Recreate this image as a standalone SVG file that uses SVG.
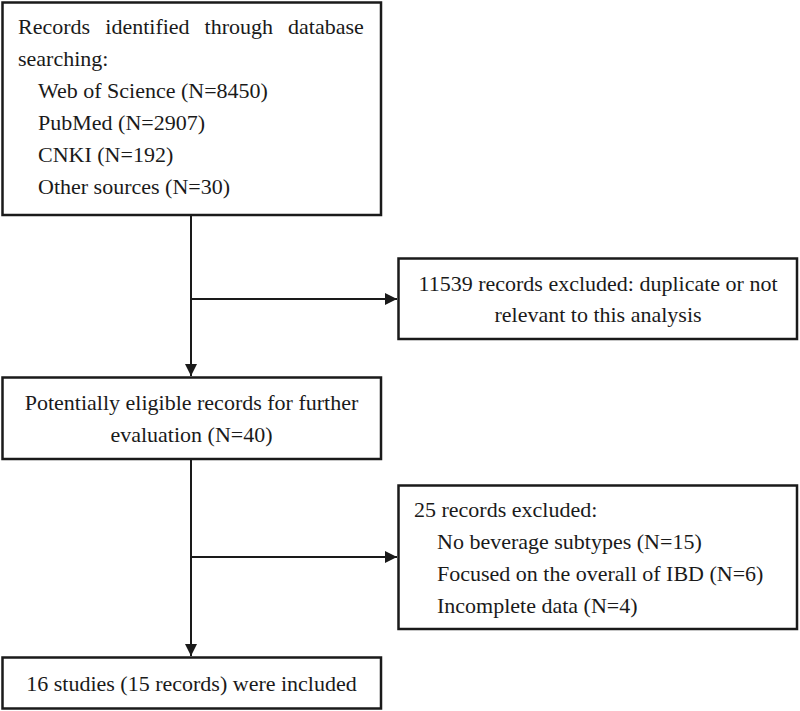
<svg xmlns="http://www.w3.org/2000/svg" width="800" height="711" viewBox="0 0 800 711">
  <style>
    .box { fill: #ffffff; stroke: #1a1a1a; stroke-width: 2.5; }
    .t { font-family: "Liberation Serif", "Times New Roman", serif; font-size: 22px; fill: #1a1a1a; }
    .c { text-anchor: middle; }
    .ln { stroke: #1a1a1a; stroke-width: 2; fill: none; }
  </style>
  <defs>
    <marker id="ah" viewBox="0 0 12 12" refX="12" refY="6" markerWidth="12" markerHeight="12" markerUnits="userSpaceOnUse" orient="auto">
      <path d="M0,0 L12,6 L0,12 Z" fill="#1a1a1a"/>
    </marker>
  </defs>
  <rect width="800" height="711" fill="#ffffff"/>

  <g id="connectors">
    <line class="ln" x1="191" y1="215" x2="191" y2="376" marker-end="url(#ah)"/>
    <line class="ln" x1="191" y1="299" x2="397" y2="299" marker-end="url(#ah)"/>
    <line class="ln" x1="191" y1="459" x2="191" y2="656" marker-end="url(#ah)"/>
    <line class="ln" x1="191" y1="557" x2="397" y2="557" marker-end="url(#ah)"/>
  </g>

  <g id="identified">
    <rect class="box" x="2.5" y="2.5" width="378.5" height="212.5"/>
    <text class="t" y="34"><tspan x="18">Records</tspan><tspan x="105.3">identified</tspan><tspan x="204.6">through</tspan><tspan x="288">database</tspan></text>
    <text class="t" x="18" y="66">searching:</text>
    <text class="t" x="38" y="98">Web of Science (N=8450)</text>
    <text class="t" x="38" y="130">PubMed (N=2907)</text>
    <text class="t" x="38" y="162">CNKI (N=192)</text>
    <text class="t" x="38" y="194">Other sources (N=30)</text>
  </g>

  <g id="excluded1">
    <rect class="box" x="398.5" y="258.5" width="398.5" height="80.5"/>
    <text class="t c" x="598" y="291">11539 records excluded: duplicate or not</text>
    <text class="t c" x="598" y="322">relevant to this analysis</text>
  </g>

  <g id="eligible">
    <rect class="box" x="2.5" y="377.5" width="378.5" height="81.5"/>
    <text class="t c" x="191.5" y="410">Potentially eligible records for further</text>
    <text class="t c" x="191.5" y="442">evaluation (N=40)</text>
  </g>

  <g id="excluded2">
    <rect class="box" x="398.5" y="485.5" width="398.5" height="143.5"/>
    <text class="t" x="414" y="517">25 records excluded:</text>
    <text class="t" x="437" y="549">No beverage subtypes (N=15)</text>
    <text class="t" x="437" y="581">Focused on the overall of IBD (N=6)</text>
    <text class="t" x="437" y="613">Incomplete data (N=4)</text>
  </g>

  <g id="included">
    <rect class="box" x="2.5" y="657.5" width="378.5" height="51"/>
    <text class="t c" x="191.5" y="691">16 studies (15 records) were included</text>
  </g>
</svg>
